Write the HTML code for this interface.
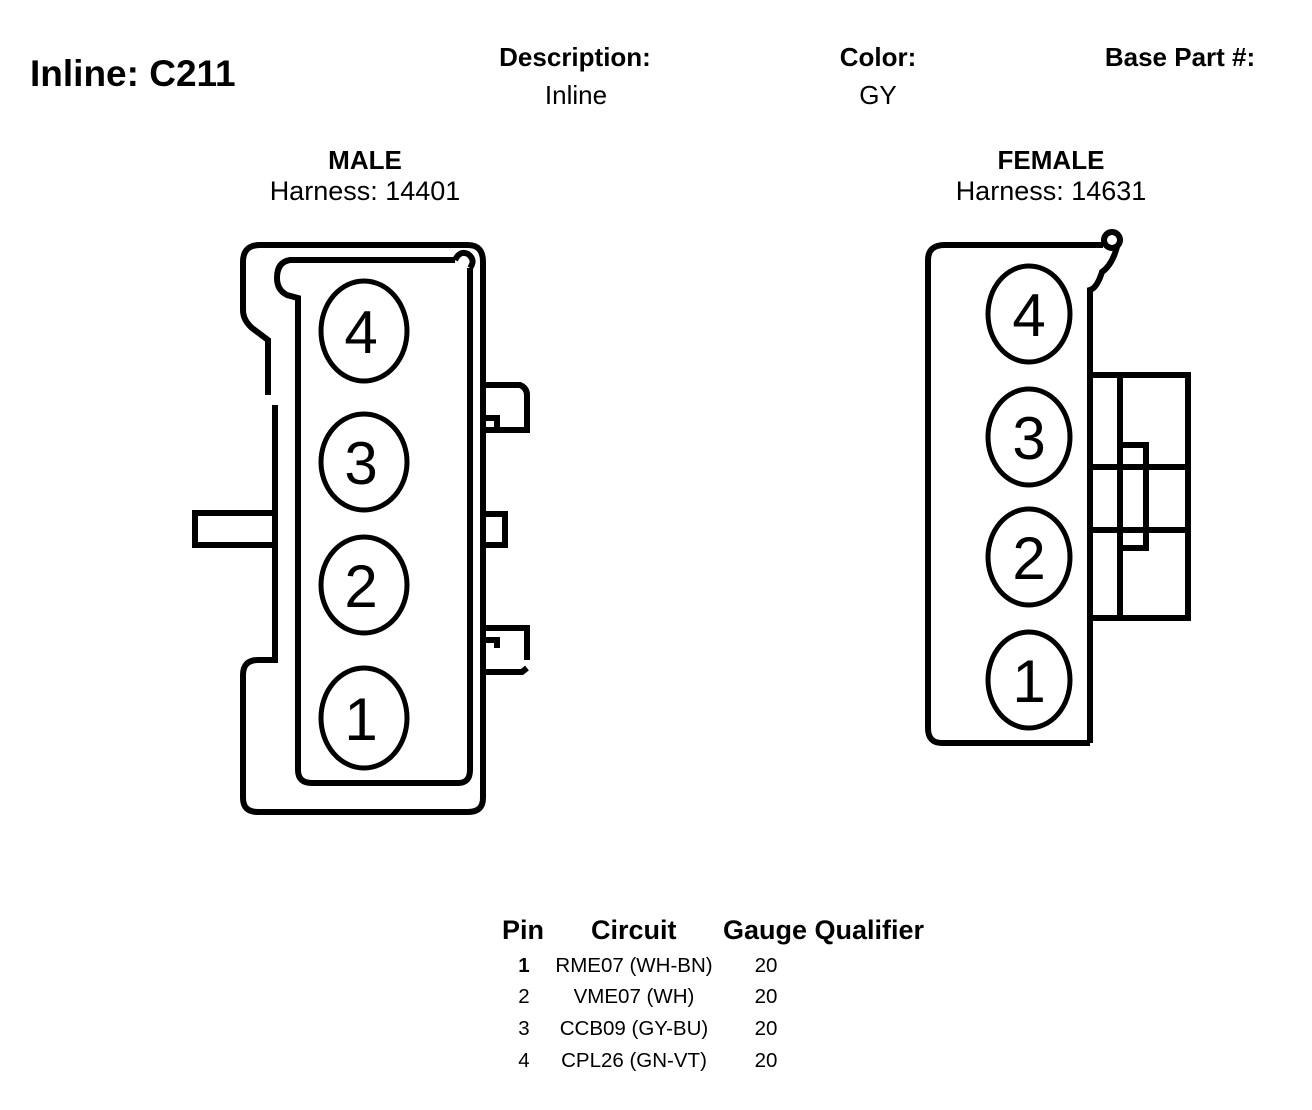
<!DOCTYPE html>
<html><head><style>
html,body{margin:0;padding:0;background:#fff;}
svg{display:block;}
text{font-family:"Liberation Sans",Arial,sans-serif;fill:#000;}
.b{font-weight:bold;}
</style></head><body>
<svg width="1312" height="1110" viewBox="0 0 1312 1110" xmlns="http://www.w3.org/2000/svg">
<text x="30" y="86" font-size="37" class="b">Inline: C211</text>
<text x="575" y="66" font-size="26" class="b" text-anchor="middle">Description:</text>
<text x="576" y="104" font-size="26" text-anchor="middle">Inline</text>
<text x="878" y="66" font-size="26" class="b" text-anchor="middle">Color:</text>
<text x="878" y="104" font-size="26" text-anchor="middle">GY</text>
<text x="1180" y="66" font-size="26" class="b" text-anchor="middle">Base Part #:</text>
<text x="365" y="169" font-size="26" class="b" text-anchor="middle">MALE</text>
<text x="365" y="200" font-size="27" text-anchor="middle">Harness: 14401</text>
<text x="1051" y="169" font-size="26" class="b" text-anchor="middle">FEMALE</text>
<text x="1051" y="200" font-size="27" text-anchor="middle">Harness: 14631</text>

<g fill="none" stroke="#000" stroke-width="6">
<path d="M268 395 L268 340 L252 328 Q243 320 243 310 L243 262 Q243 245 260 245 L468 245 Q483 245 483 262 L483 798 Q483 812 468 812 L258 812 Q243 812 243 798 L243 675 Q243 660 258 660 L275 660 L275 405"/>
<path d="M455 260 L290 260 Q277 262 277 278 Q277 290 287 295 L298 298 L298 770 Q298 783 312 783 L458 783 Q470 783 470 770 L470 268"/>
<path d="M455 260 Q460 250 468 254 Q476 260 470 268"/>
<path d="M275 513 L195 513 L195 545 L275 545"/>
<path d="M483 385 L520 385 Q527 388 527 395 L527 430 L483 430"/>
<path d="M497 430 L497 418 L483 418"/>
<path d="M483 514 L505 514 L505 545 L483 545"/>
<path d="M483 628 L527 628 L527 660"/>
<path d="M483 640 L497 640 L497 648"/>
<path d="M483 672 L522 672 L527 668"/>
<path d="M1090 743 L942 743 Q928 743 928 728 L928 260 Q928 245 945 245 L1103 245"/>
<circle cx="1112" cy="240" r="8"/>
<path d="M1117 247 Q1112 265 1102 272 Q1097 288 1090 290 L1090 743"/>
<path d="M1090 375 L1188 375 L1188 618 L1090 618"/>
<path d="M1090 467 L1188 467 M1090 530 L1188 530 M1120 375 L1120 618"/>
<path d="M1120 445 L1146 445 L1146 548 L1120 548"/>
</g>
<g fill="none" stroke="#000" stroke-width="5">
<ellipse cx="364" cy="331" rx="43" ry="50"/>
<ellipse cx="364" cy="462" rx="43" ry="48"/>
<ellipse cx="364" cy="585" rx="43" ry="48"/>
<ellipse cx="364" cy="718" rx="43" ry="50"/>
<ellipse cx="1029" cy="314" rx="41" ry="48"/>
<ellipse cx="1029" cy="437" rx="41" ry="48"/>
<ellipse cx="1029" cy="557" rx="41" ry="48"/>
<ellipse cx="1029" cy="680" rx="41" ry="48"/>
</g>
<g font-size="60" text-anchor="middle">
<text x="361" y="353">4</text><text x="361" y="484">3</text>
<text x="361" y="607">2</text><text x="361" y="740">1</text>
<text x="1029" y="336">4</text><text x="1029" y="459">3</text>
<text x="1029" y="579">2</text><text x="1029" y="702">1</text>
</g>
<text x="502" y="939" font-size="27" class="b">Pin</text>
<text x="591" y="939" font-size="27" class="b">Circuit</text>
<text x="723" y="939" font-size="27" class="b">Gauge Qualifier</text>
<g font-size="20.5">
<text x="524" y="972" text-anchor="middle" class="b">1</text><text x="634" y="972" text-anchor="middle">RME07 (WH-BN)</text><text x="766" y="972" text-anchor="middle">20</text>
<text x="524" y="1003" text-anchor="middle">2</text><text x="634" y="1003" text-anchor="middle">VME07 (WH)</text><text x="766" y="1003" text-anchor="middle">20</text>
<text x="524" y="1035" text-anchor="middle">3</text><text x="634" y="1035" text-anchor="middle">CCB09 (GY-BU)</text><text x="766" y="1035" text-anchor="middle">20</text>
<text x="524" y="1067" text-anchor="middle">4</text><text x="634" y="1067" text-anchor="middle">CPL26 (GN-VT)</text><text x="766" y="1067" text-anchor="middle">20</text>
</g>
</svg>
</body></html>
